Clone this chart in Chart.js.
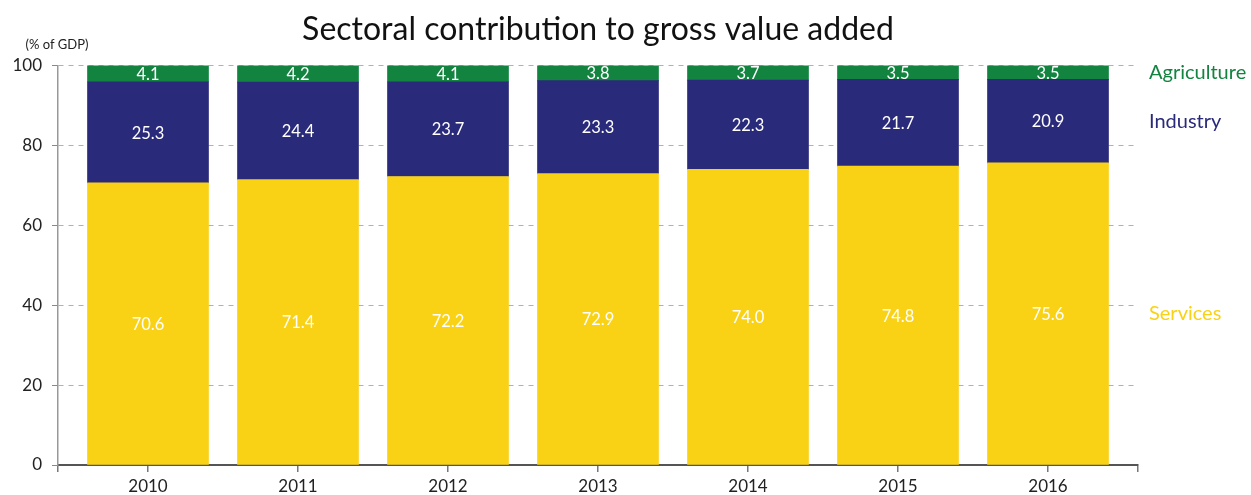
<!DOCTYPE html>
<html>
<head>
<meta charset="utf-8">
<script src="https://cdn.jsdelivr.net/npm/chart.js@4.4.0/dist/chart.umd.min.js"></script>
<style>
  html, body { margin: 0; padding: 0; background: #fff; }
  #wrap { width: 1251px; height: 495px; }
</style>
</head>
<body>
<div id="wrap"><canvas id="sectorChart"></canvas></div>
<script>
const years = ['2010', '2011', '2012', '2013', '2014', '2015', '2016'];
const services = [70.6, 71.4, 72.2, 72.9, 74.0, 74.8, 75.6];
const industry = [25.3, 24.4, 23.7, 23.3, 22.3, 21.7, 20.9];
const agriculture = [4.1, 4.2, 4.1, 3.8, 3.7, 3.5, 3.5];
const yTicks = [0, 20, 40, 60, 80, 100];

const FONT = 'Lato, "DejaVu Sans", sans-serif';

function toPoints(values) {
    return values.map(function(v, i) { return { x: i, y: v }; });
}

// white value labels inside each segment + series names on the right
const segmentLabels = {
    id: 'segmentLabels',
    afterDraw(chart) {
        const ctx = chart.ctx;
        const area = chart.chartArea;
        ctx.save();
        ctx.textAlign = 'center';
        ctx.textBaseline = 'middle';
        chart.data.datasets.forEach(function(ds, di) {
            const meta = chart.getDatasetMeta(di);
            ctx.font = '16.5px ' + FONT;
            ctx.fillStyle = '#ffffff';
            meta.data.forEach(function(bar, i) {
                ctx.fillText(ds.data[i].y.toFixed(1), bar.x, (bar.y + bar.base) / 2 + 1);
            });
            const last = meta.data[meta.data.length - 1];
            ctx.font = '20px ' + FONT;
            ctx.fillStyle = ds.backgroundColor;
            ctx.textAlign = 'left';
            ctx.fillText(ds.label, area.right + 11, (last.y + last.base) / 2);
            ctx.textAlign = 'center';
        });
        // unit note above the y axis
        ctx.font = '13px ' + FONT;
        ctx.fillStyle = '#222';
        ctx.fillText('(% of GDP)', 57, 45);
        ctx.restore();
    }
};

const ctx = document.getElementById('sectorChart').getContext('2d');
new Chart(ctx, {
    type: 'bar',
    data: {
        datasets: [
            { label: 'Services', data: toPoints(services), backgroundColor: '#F9D216' },
            { label: 'Industry', data: toPoints(industry), backgroundColor: '#2A2A7B' },
            { label: 'Agriculture', data: toPoints(agriculture), backgroundColor: '#12843F' }
        ]
    },
    options: {
        responsive: true,
        maintainAspectRatio: false,
        animation: false,
        barThickness: 121,
        layout: { padding: { left: 0, right: 113, top: 0, bottom: 0 } },
        plugins: {
            legend: { display: false },
            tooltip: { enabled: false },
            title: {
                display: true,
                text: 'Sectoral contribution to gross value added',
                fullSize: false,
                color: '#111',
                font: { family: FONT, size: 32, weight: 'normal' },
                padding: { top: 10, bottom: 17 }
            }
        },
        scales: {
            x: {
                type: 'linear',
                stacked: true,
                offset: false,
                min: -0.6,
                max: 6.6,
                afterBuildTicks: function(scale) {
                    const t = [-0.6];
                    years.forEach(function(y, i) { t.push(i); });
                    t.push(6.6);
                    scale.ticks = t.map(function(v) { return { value: v }; });
                },
                afterFit: function(scale) { scale.height = 30; },
                grid: { display: true, offset: false, drawOnChartArea: false, drawTicks: true, tickLength: 7, color: '#777', tickColor: '#777', lineWidth: 1.5 },
                border: { display: true, color: '#555', width: 2 },
                ticks: {
                    autoSkip: false,
                    maxRotation: 0,
                    padding: 4,
                    color: '#222',
                    font: { family: FONT, size: 17 },
                    callback: function(v) {
                        const r = Math.round(v);
                        return Math.abs(v - r) < 1e-6 ? years[r] : '';
                    }
                }
            },
            y: {
                stacked: true,
                z: 1,
                min: 0,
                max: 100,
                afterBuildTicks: function(scale) {
                    scale.ticks = yTicks.map(function(v) { return { value: v }; });
                },
                afterFit: function(scale) { scale.width = 58; },
                grid: {
                    color: function(c) { return c.tick && c.tick.value === 0 ? 'rgba(0,0,0,0)' : 'rgba(125,125,125,0.6)'; },
                    tickColor: '#888',
                    tickLength: 6,
                    lineWidth: 1
                },
                border: { display: true, color: '#999', width: 1.5, dash: [5, 5] },
                ticks: {
                    padding: 10,
                    color: '#222',
                    font: { family: FONT, size: 17 }
                }
            }
        }
    },
    plugins: [segmentLabels]
});
</script>
</body>
</html>
